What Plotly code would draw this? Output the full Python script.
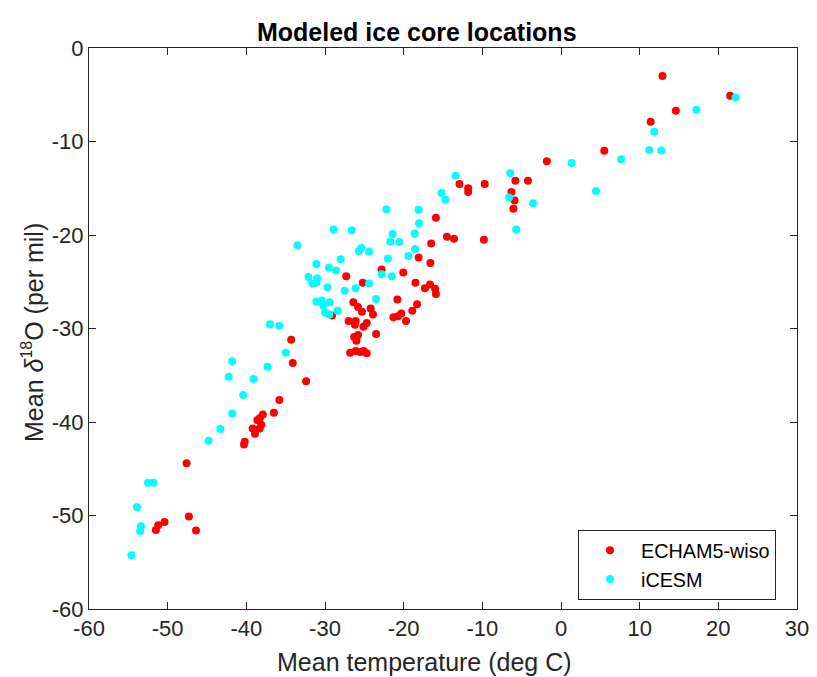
import plotly.graph_objects as go

echam_temp = [12.9, 21.5, 14.6, 11.4, 5.5, -1.8, -12.9, -11.8, -11.8, -9.7, -5.8, -4.2, -6.3, -5.9, -6.05,
              -14.5, -13.6, -9.8, -15.9, -16.5, -18.1, -16.6, -22.8, -20.05, -27.3, -25.2, -18.5, -16.65,
              -17.3, -16.0, -15.9, -20.8, -29.1, -26.4, -25.8, -25.3, -24.2, -23.9, -18.3, -18.9, -20.3,
              -21.3, -19.7, -20.7, -27.0, -26.1, -26.2, -25.1, -24.7, -23.5, -26.3, -25.8, -26.0, -26.8,
              -26.1, -25.5, -25.1, -24.7, -34.3, -34.1, -32.4, -35.8, -36.5, -37.9, -38.3, -38.6, -38.1,
              -38.3, -39.2, -38.9, -40.2, -40.3, -47.6, -47.3, -50.4, -51.2, -51.5, -46.4]
echam_d18o = [-3.0, -5.1, -6.7, -7.9, -11.0, -12.1, -14.55, -15.0, -15.4, -14.55, -14.2, -14.2, -15.4, -16.3, -17.2,
              -20.2, -20.4, -20.5, -18.15, -20.9, -22.4, -23.0, -23.7, -24.0, -24.4, -25.1, -25.1, -25.3,
              -25.7, -25.75, -26.3, -26.9, -28.6, -27.2, -27.7, -28.2, -27.85, -28.5, -27.4, -28.1, -28.4,
              -28.8, -29.2, -28.7, -29.2, -29.2, -29.6, -29.8, -29.4, -30.6, -30.9, -30.7, -31.3, -32.6,
              -32.4, -32.5, -32.4, -32.65, -31.2, -33.7, -35.65, -37.65, -39.0, -39.2, -39.6, -39.8, -40.3,
              -40.7, -40.7, -41.25, -42.1, -42.4, -44.4, -50.1, -50.7, -51.05, -51.55, -51.6]

icesm_temp = [22.2, 17.2, 11.85, 11.2, 12.75, 7.66, 1.35, 4.45, -13.4, -15.2, -14.7, -6.45, -6.6, -3.56, -5.7,
              -22.2, -18.1, -18.05, -28.9, -26.6, -21.4, -18.6, -21.7, -20.55, -33.5, -25.4, -25.7, -24.4,
              -18.55, -22.0, -19.4, -28.0, -31.1, -29.5, -28.6, -22.8, -21.5, -32.1, -31.0, -31.6, -31.1,
              -24.4, -29.7, -27.5, -26.1, -23.5, -31.1, -30.4, -29.4, -30.2, -30.0, -29.45, -28.4, -37.0,
              -35.8, -35.0, -41.8, -37.3, -42.25, -39.1, -40.4, -41.8, -43.3, -44.8, -52.5, -51.8, -53.9,
              -53.4, -53.5, -54.6]
icesm_d18o = [-5.3, -6.6, -8.95, -10.9, -10.95, -11.9, -12.3, -15.3, -13.65, -15.5, -16.2, -13.4, -16.0, -16.6, -19.4,
              -17.25, -17.3, -18.75, -19.4, -19.5, -19.9, -19.85, -20.7, -20.75, -21.1, -21.4, -21.7, -21.8,
              -21.5, -22.5, -22.25, -22.6, -23.1, -23.5, -23.8, -24.2, -24.4, -24.5, -24.65, -25.2, -25.1,
              -25.2, -25.6, -25.95, -25.7, -26.85, -27.1, -27.0, -27.2, -27.6, -28.3, -28.5, -28.1, -29.55,
              -29.7, -32.6, -33.5, -34.1, -35.15, -35.4, -37.1, -39.1, -40.75, -42.0, -46.5, -46.5, -49.1,
              -51.15, -51.65, -54.25]

x_ticks = [-60, -50, -40, -30, -20, -10, 0, 10, 20, 30]
y_ticks = [-60, -50, -40, -30, -20, -10, 0]

title_text = "<b>Modeled ice core locations</b>"
xlabel_text = "Mean temperature (deg C)"
ylabel_text = "Mean <i>δ</i><sup><span style='font-size:16px'>18</span></sup>O (per mil)"

FONT = "Liberation Sans, Arial, Helvetica"
GRAY = "#262626"

fig = go.Figure()
fig.add_trace(go.Scatter(x=echam_temp, y=echam_d18o, mode="markers", name="ECHAM5-wiso",
                         marker=dict(color="rgb(255,0,0)", size=8, line=dict(width=0))))
fig.add_trace(go.Scatter(x=icesm_temp, y=icesm_d18o, mode="markers", name="iCESM",
                         marker=dict(color="rgb(0,255,255)", size=8, line=dict(width=0))))

axis_common = dict(showgrid=False, zeroline=False, showline=True, linecolor=GRAY, linewidth=1,
                   mirror="ticks", ticks="inside", ticklen=7, tickcolor=GRAY, automargin=False,
                   tickfont=dict(family=FONT, size=22, color=GRAY))

fig.update_xaxes(range=[-60, 30], tickvals=x_ticks, ticktext=[str(v) for v in x_ticks], **axis_common)
fig.update_yaxes(range=[-60, 0], tickvals=y_ticks, ticktext=[str(v) for v in y_ticks], **axis_common)

# plot area: x 89..797 px, y 48..609 px
def px_x(p):
    return (p - 89) / 708.0

def px_y(p):
    return (609 - p) / 561.0

fig.add_annotation(text=title_text, xref="paper", yref="paper", x=px_x(417), y=px_y(32),
                   xanchor="center", yanchor="middle", showarrow=False,
                   font=dict(family=FONT, size=25, color="black"))
fig.add_annotation(text=xlabel_text, xref="paper", yref="paper", x=px_x(424.5), y=px_y(662),
                   xanchor="center", yanchor="middle", showarrow=False,
                   font=dict(family=FONT, size=25, color=GRAY))
fig.add_annotation(text=ylabel_text, xref="paper", yref="paper", x=px_x(33), y=px_y(333),
                   xanchor="center", yanchor="middle", showarrow=False, textangle=-90,
                   font=dict(family=FONT, size=25, color=GRAY))

fig.update_layout(
    width=817, height=677,
    margin=dict(l=89, r=20, t=48, b=68, autoexpand=False),
    plot_bgcolor="white", paper_bgcolor="white",
    legend=dict(x=px_x(578), xanchor="left", y=px_y(565), yanchor="middle",
                bordercolor=GRAY, borderwidth=1, bgcolor="white",
                font=dict(family=FONT, size=19.8, color="black"),
                itemwidth=52, tracegroupgap=0),
    showlegend=True,
)

fig.write_html("out.html")
